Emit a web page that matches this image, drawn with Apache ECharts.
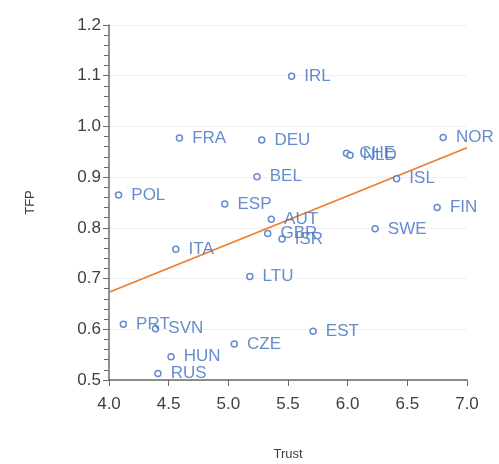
<!DOCTYPE html>
<html><head><meta charset="utf-8">
<script src="https://cdn.jsdelivr.net/npm/echarts@6/dist/echarts.min.js"></script>
<style>html,body{margin:0;padding:0;background:#fff}#c{width:499px;height:464px}</style>
</head><body><div id="c"></div>
<script>
var countries = ["IRL","FRA","DEU","BEL","POL","ESP","AUT","GBR","ISR","ITA","LTU","PRT","SVN","CZE","HUN","RUS","EST","CHE","NLD","NOR","ISL","FIN","SWE"];
var trust = [5.53,4.59,5.28,5.24,4.08,4.97,5.36,5.33,5.45,4.56,5.18,4.12,4.39,5.05,4.52,4.41,5.71,5.99,6.02,6.80,6.41,6.75,6.23];
var tfp = [1.099,0.977,0.973,0.901,0.865,0.847,0.817,0.789,0.778,0.758,0.704,0.610,0.601,0.571,0.546,0.513,0.596,0.947,0.943,0.978,0.897,0.840,0.798];
var trendX = [4.0, 7.0];
var trendY = [0.673, 0.958];
var xTicks = ["4.0","4.5","5.0","5.5","6.0","6.5","7.0"];

var pts = countries.map(function(c,i){return {name:c, value:[trust[i], tfp[i]]};});
var chart = echarts.init(document.getElementById('c'));
var font = 'Liberation Sans';
chart.setOption({
  animation:false,
  grid:{left:109,right:32,top:25,bottom:84,containLabel:false,outerBoundsMode:'none'},
  xAxis:{type:'value',min:4,max:7,interval:0.5,
    name:'Trust',nameLocation:'middle',nameGap:68,
    nameTextStyle:{fontFamily:font,fontSize:13,color:'#404040'},
    axisLine:{show:true,onZero:false,lineStyle:{color:'#6a6a6a',width:1.5}},
    axisTick:{show:true,length:6,lineStyle:{color:'#6a6a6a'}},
    axisLabel:{fontFamily:font,fontSize:17,color:'#404040',margin:16,formatter:function(v){return v.toFixed(1);}},
    splitLine:{show:false}},
  yAxis:{type:'value',min:0.5,max:1.2,interval:0.1,
    name:'TFP',nameLocation:'middle',nameGap:72,nameRotate:90,
    nameTextStyle:{fontFamily:font,fontSize:13,color:'#404040'},
    axisLine:{show:true,onZero:false,lineStyle:{color:'#6a6a6a',width:1.5}},
    axisTick:{show:true,length:6,lineStyle:{color:'#6a6a6a'}},
    minorTick:{show:true,splitNumber:5,length:5,lineStyle:{color:'#6a6a6a'}},
    axisLabel:{fontFamily:font,fontSize:17,color:'#404040',margin:8,formatter:function(v){return v.toFixed(1);}},
    splitLine:{show:true,lineStyle:{color:'#f0f0f0',width:1}}},
  series:[
    {type:'line',data:trendX.map(function(x,i){return [x,trendY[i]];}),
     showSymbol:false,symbol:'none',lineStyle:{color:'#ED7D31',width:1.8},z:3,silent:true},
    {type:'scatter',data:pts,symbol:'circle',symbolSize:6,
     itemStyle:{color:'#fff',borderColor:'#3F6FC0',borderWidth:1.5},
     label:{show:true,position:'right',distance:9,formatter:'{b}',
       fontFamily:font,fontSize:17,color:'#3F6FC0'},z:4}
  ]
});
</script></body></html>
